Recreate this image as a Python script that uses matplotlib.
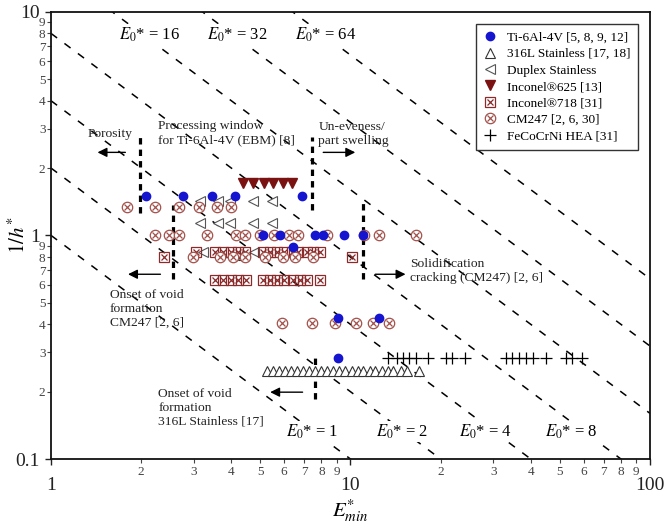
import numpy as np
import matplotlib
matplotlib.use('Agg')
import matplotlib.pyplot as plt
from matplotlib.legend_handler import HandlerTuple
from matplotlib.ticker import FixedLocator, FixedFormatter

plt.rcParams['font.family'] = ['Liberation Serif', 'DejaVu Serif']
plt.rcParams['mathtext.fontset'] = 'stix'

# --- data (E*min, 1/h*) ---
ti_x = [2.08, 2.76, 3.45, 4.12, 6.91, 5.12, 5.83, 7.64, 8.12, 9.55, 10.97,
        6.45, 9.12, 12.5, 9.12]
ti_y = [1.50, 1.50, 1.50, 1.50, 1.50, 1.00, 1.00, 1.00, 1.00, 1.00, 1.00,
        0.89, 0.425, 0.425, 0.282]

ss316_x = [5.28, 5.52, 5.79, 6.06, 6.35, 6.65, 6.96, 7.29, 7.64, 8.00, 8.38,
           8.77, 9.19, 9.62, 10.1, 10.6, 11.0, 11.6, 12.1, 12.7, 13.3, 13.9,
           14.7, 15.5, 16.9, 4.39]
ss316_y = [0.247] * 25 + [0.82]

duplex_x = [3.15, 3.62, 3.97, 4.74, 5.48, 3.15, 3.62, 3.97, 4.74, 5.48,
            3.22, 4.78]
duplex_y = [1.43, 1.43, 1.43, 1.43, 1.43, 1.13, 1.13, 1.13, 1.13, 1.13,
            0.845, 0.845]

in625_x = [4.39, 4.74, 5.16, 5.53, 5.97, 6.40]
in625_y = [1.72] * 6

in718_x = [2.38, 3.04, 3.54, 3.76, 4.00, 4.22, 4.46, 5.12, 5.40, 5.70, 6.02,
           6.40, 6.70, 7.18, 7.52, 7.94, 10.1,
           3.54, 3.76, 4.00, 4.22, 4.49, 5.12, 5.40, 5.70, 6.02, 6.45, 6.80,
           7.18, 7.94]
in718_y = [0.80, 0.84, 0.84, 0.84, 0.84, 0.84, 0.84, 0.84, 0.84, 0.84, 0.84,
           0.84, 0.84, 0.84, 0.84, 0.84, 0.80,
           0.634, 0.634, 0.634, 0.634, 0.634, 0.634, 0.634, 0.634, 0.634,
           0.634, 0.634, 0.634, 0.634]

cm247_x = [1.80, 2.23, 2.68, 3.13, 3.59, 4.00,
           2.23, 2.48, 2.68, 3.32, 4.16, 4.46, 5.00, 5.57, 6.25, 6.70, 8.38,
           11.1, 12.5, 16.6,
           2.99, 3.67, 4.06, 4.46, 5.19, 5.97, 6.55, 7.52,
           5.92, 7.46, 8.91, 10.4, 11.9, 13.4]
cm247_y = [1.34] * 6 + [1.0] * 14 + [0.80] * 8 + [0.404] * 6

hea_x = [13.3, 14.3, 15.0, 15.7, 16.5, 18.1, 20.9, 21.9, 24.2, 33.0, 34.5,
         36.5, 38.5, 40.6, 44.9, 52.4, 54.8, 59.2]
hea_y = [0.282] * 18

e0_levels = [1, 2, 4, 8, 16, 32, 64]
e0_label_pos = {1: (7.46, 0.133), 2: (14.9, 0.133), 4: (28.3, 0.133),
                8: (54.4, 0.133), 16: (2.14, 7.9), 32: (4.19, 7.9),
                64: (8.25, 7.9)}

fig = plt.figure(figsize=(6.68, 5.25), dpi=100)
ax = fig.add_axes([0.0763, 0.1257, 0.8967, 0.852])
ax.set_xscale('log')
ax.set_yscale('log')
ax.set_xlim(1, 100)
ax.set_ylim(0.1, 10)

# constant E0* guide lines
xx = np.logspace(0, 2, 300)
for e0 in e0_levels:
    ax.plot(xx, e0 / xx, color='black', lw=1.1, ls=(0, (5, 6)), zorder=1)
    lx, ly = e0_label_pos[e0]
    ax.text(lx, ly, r'$E_{\mathit{0}}$* = %d' % e0, fontsize=12,
            ha='center', va='center', zorder=2,
            bbox=dict(facecolor='white', edgecolor='none', pad=1))

# boundaries of the regimes
bnd = dict(color='black', lw=2.3, ls=(0, (2, 1.6)), zorder=2)
ax.plot([1.99, 1.99], [1.26, 2.75], **bnd)
ax.plot([7.46, 7.46], [1.3, 2.75], **bnd)
ax.plot([2.56, 2.56], [0.635, 1.37], **bnd)
ax.plot([7.64, 7.64], [0.185, 0.286], **bnd)
ax.plot([11.05, 11.05], [0.64, 1.40], **bnd)

arr = dict(arrowstyle='-|>', color='black', lw=1.0, mutation_scale=14)
ax.annotate('', xy=(1.40, 2.35), xytext=(1.81, 2.35), arrowprops=arr)
ax.annotate('', xy=(10.6, 2.35), xytext=(7.94, 2.35), arrowprops=arr)
ax.annotate('', xy=(1.77, 0.67), xytext=(2.37, 0.67), arrowprops=arr)
ax.annotate('', xy=(15.6, 0.67), xytext=(11.85, 0.67), arrowprops=arr)
ax.annotate('', xy=(5.28, 0.199), xytext=(7.07, 0.199), arrowprops=arr)

tk = dict(fontsize=9.7, color='#222222', zorder=4, va='top',
          linespacing=1.2)
ax.text(1.33, 3.03, 'Porosity', **tk)
ax.text(2.28, 3.28, 'Processing window\nfor Ti-6Al-4V (EBM) [8]', **tk)
ax.text(7.82, 3.25, 'Un-eveness/\npart swelling', **tk)
ax.text(1.575, 0.573, 'Onset of void\nformation\nCM247 [2, 6]', **tk)
ax.text(15.8, 0.79, 'Solidification\ncracking (CM247) [2, 6]', **tk)
ax.text(2.28, 0.207, 'Onset of void\nformation\n316L Stainless [17]', **tk)

# data series
red1 = '#8a2a2a'
red2 = '#a3504a'
h_ti, = ax.plot(ti_x, ti_y, 'o', ms=6, color='#1515d0', mec='#1515d0',
                zorder=5)
h_316, = ax.plot(ss316_x, ss316_y, '^', ms=6.5, mfc='white', mec='#333333',
                 mew=0.8, zorder=4)
h_dup, = ax.plot(duplex_x, duplex_y, '<', ms=6.5, mfc='white', mec='#555555',
                 mew=0.8, zorder=4)
h_625, = ax.plot(in625_x, in625_y, 'v', ms=6.5, color='#7a1212', zorder=4)
h_718a, = ax.plot(in718_x, in718_y, 's', ms=6.5, mfc='none', mec=red1,
                  mew=0.9, zorder=4)
h_718b, = ax.plot(in718_x, in718_y, 'x', ms=5, mec=red1, mew=0.9, zorder=4)
h_cma, = ax.plot(cm247_x, cm247_y, 'o', ms=7.5, mfc='white', mec=red2,
                 mew=0.9, zorder=4)
h_cmb, = ax.plot(cm247_x, cm247_y, 'x', ms=4, mec=red2, mew=0.9, zorder=4)
h_hea, = ax.plot(hea_x, hea_y, '+', ms=8, color='black', mew=0.9, zorder=4)

handles = [h_ti, h_316, h_dup, h_625, (h_718a, h_718b), (h_cma, h_cmb), h_hea]
labels = ['Ti-6Al-4V [5, 8, 9, 12]', '316L Stainless [17, 18]',
          'Duplex Stainless', 'Inconel®625 [13]', 'Inconel®718 [31]',
          'CM247 [2, 6, 30]', 'FeCoCrNi HEA [31]']
leg = ax.legend(handles, labels, loc='upper right', fontsize=9.5,
                handler_map={tuple: HandlerTuple(ndivide=1, pad=0)},
                frameon=True, fancybox=False, edgecolor='#333333',
                framealpha=1, borderaxespad=0.9, handlelength=0.9,
                handletextpad=0.8, labelspacing=0.32, borderpad=0.6)
leg.get_frame().set_linewidth(1.0)
leg.set_zorder(6)

# ticks
ax.xaxis.set_major_locator(FixedLocator([1, 10, 100]))
ax.xaxis.set_major_formatter(FixedFormatter(['1', '10', '100']))
xminor = [2, 3, 4, 5, 6, 7, 8, 9, 20, 30, 40, 50, 60, 70, 80, 90]
ax.xaxis.set_minor_locator(FixedLocator(xminor))
ax.xaxis.set_minor_formatter(FixedFormatter([str(v)[0] for v in xminor]))
ax.yaxis.set_major_locator(FixedLocator([0.1, 1, 10]))
ax.yaxis.set_major_formatter(FixedFormatter(['0.1', '1', '10']))
yminor = [0.2, 0.3, 0.4, 0.5, 0.6, 0.7, 0.8, 0.9, 2, 3, 4, 5, 6, 7, 8, 9]
ax.yaxis.set_minor_locator(FixedLocator(yminor))
ax.yaxis.set_minor_formatter(FixedFormatter(
    [str(v).replace('0.', '')[0] for v in yminor]))

ax.tick_params(which='major', length=4, width=1, labelsize=14,
               colors='#222222')
ax.tick_params(which='minor', length=3, width=0.8, labelsize=9.5,
               colors='#444444')
ax.tick_params(axis='x', which='major', pad=9)
ax.tick_params(axis='x', which='minor', pad=2)
ax.tick_params(axis='y', which='major', pad=4)
ax.tick_params(axis='y', which='minor', pad=1)
for s in ax.spines.values():
    s.set_linewidth(1.3)
    s.set_color('#111111')

ax.set_xlabel(r'$E^{*}_{min}$', fontsize=15)
ax.set_ylabel(r'$1/h^{*}$', fontsize=15)
ax.xaxis.set_label_coords(0.5, -0.085)
ax.yaxis.set_label_coords(-0.036, 0.5)

fig.savefig('out.png', dpi=100)
